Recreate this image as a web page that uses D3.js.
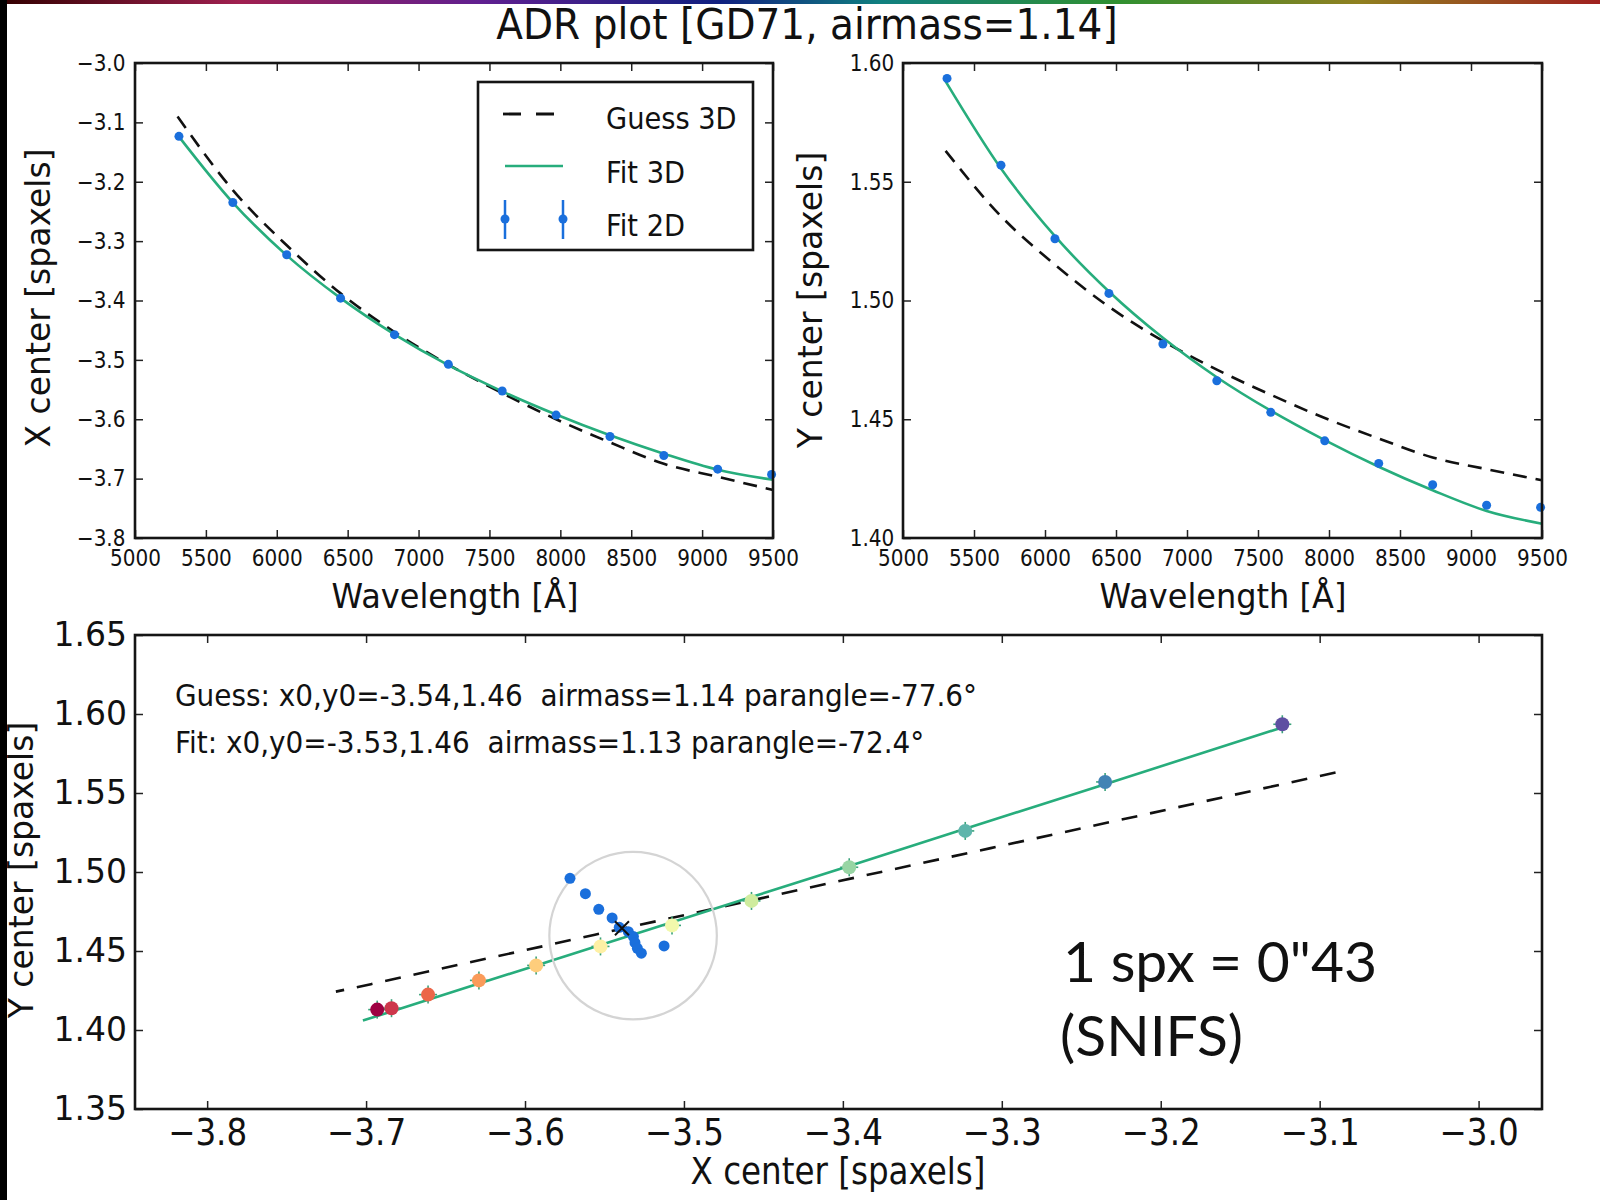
<!DOCTYPE html>
<html lang="en">
<head>
<meta charset="UTF-8">
<title>ADR plot</title>
<script src="https://cdn.jsdelivr.net/npm/d3@7"></script>
<style>
  body { margin: 0; background: #fff; }
  text { font-family: "DejaVu Sans", sans-serif; fill: #111; white-space: pre; }
</style>
</head>
<body>
<script>
// ---- data ----
const waves = [5310, 5690, 6070, 6450, 6830, 7210, 7590, 7970, 8350, 8730, 9110, 9490];
const fit2dX = [-3.1235, -3.235, -3.323, -3.396, -3.4575, -3.5075, -3.5525, -3.593, -3.629, -3.661, -3.684, -3.693];
const fit2dY = [1.5935, 1.5570, 1.5260, 1.5030, 1.4817, 1.4662, 1.4529, 1.4409, 1.4314, 1.4224, 1.4138, 1.4129];

const curveWaves = [5300, 5690, 6070, 6450, 6830, 7210, 7590, 7970, 8350, 8730, 9110, 9500];
const fit3dX = [-3.121, -3.235, -3.324, -3.396, -3.457, -3.509, -3.553, -3.592, -3.627, -3.658, -3.685, -3.702];
const fit3dY = [1.5923, 1.5556, 1.5271, 1.5038, 1.4843, 1.4677, 1.4536, 1.4412, 1.4300, 1.4201, 1.4114, 1.4060];
const guessX = [-3.090, -3.214, -3.307, -3.388, -3.453, -3.508, -3.556, -3.600, -3.639, -3.675, -3.697, -3.719];
const guessY = [1.5630, 1.5355, 1.5151, 1.4974, 1.4830, 1.4709, 1.4603, 1.4505, 1.4419, 1.4339, 1.4290, 1.4243];

// per-slice centroids, bottom panel
const centX = [-3.5717, -3.5620, -3.5536, -3.5452, -3.5407, -3.5350, -3.5318, -3.5308, -3.5293, -3.5268, -3.5125];
const centY = [1.4960, 1.4863, 1.4764, 1.4709, 1.4650, 1.4622, 1.4591, 1.4553, 1.4517, 1.4486, 1.4532];
const guessCenter = [-3.539, 1.4644];
const ring = { x: -3.532, y: 1.4597, r: 0.0527 };

const waveTicks = [5000, 5500, 6000, 6500, 7000, 7500, 8000, 8500, 9000, 9500];
const xcTicks = [-3.0, -3.1, -3.2, -3.3, -3.4, -3.5, -3.6, -3.7, -3.8];
const ycTicks = [1.40, 1.45, 1.50, 1.55, 1.60];
const ybTicks = [1.35, 1.40, 1.45, 1.50, 1.55, 1.60, 1.65];

const title = 'ADR plot [GD71, airmass=1.14]';
const guessTxt = 'Guess: x0,y0=-3.54,1.46  airmass=1.14 parangle=-77.6°';
const fitTxt = 'Fit: x0,y0=-3.53,1.46  airmass=1.13 parangle=-72.4°';

const blue = '#1a6fdc', green = '#27ad7c';

let svg = d3.select('body').append('svg').attr('width', 1600).attr('height', 1200);
svg.append('rect').attr('width', 1600).attr('height', 1200).attr('fill', '#fff');

// scanner-ish borders of the original picture
let grad = svg.append('defs').append('linearGradient').attr('id', 'spec');
[['0', '#300'], ['0.15', '#a02050'], ['0.3', '#602090'], ['0.45', '#102080'], ['0.55', '#108080'],
 ['0.7', '#309030'], ['0.85', '#908020'], ['1', '#a02020']].forEach(s =>
  grad.append('stop').attr('offset', s[0]).attr('stop-color', s[1]));
svg.append('rect').attr('width', 1600).attr('height', 4).attr('fill', 'url(#spec)');
svg.append('rect').attr('width', 7).attr('height', 1200).attr('fill', '#000');

function txt(g, x, y, s, size, sx, anchor) {
  return g.append('text')
    .attr('transform', `translate(${x},${y}) scale(${sx},1)`)
    .attr('text-anchor', anchor || 'start')
    .style('font-size', size + 'px')
    .text(s);
}

function panel(box, xDom, yDom, xT, yT, xFmt, yFmt, o) {
  let w = box.r - box.l, h = box.b - box.t;
  let g = svg.append('g').attr('transform', `translate(${box.l},${box.t})`);
  let x = d3.scaleLinear().domain(xDom).range([0, w]);
  let y = d3.scaleLinear().domain(yDom).range([h, 0]);
  let ax = g.append('g').attr('transform', `translate(0,${h})`)
    .call(d3.axisBottom(x).tickValues(xT).tickSize(-8).tickFormat(xFmt));
  ax.selectAll('text').attr('y', o.xLabY).attr('dy', 0)
    .style('font-size', o.xFs + 'px').attr('transform', `scale(${o.xSx},1)`);
  g.append('g').call(d3.axisTop(x).tickValues(xT).tickSize(-8).tickFormat(''));
  let ay = g.append('g').call(d3.axisLeft(y).tickValues(yT).tickSize(-8).tickFormat(yFmt));
  ay.selectAll('text').attr('x', o.yLabX)
    .style('font-size', o.yFs + 'px').attr('transform', `scale(${o.ySx},1)`);
  g.append('g').attr('transform', `translate(${w},0)`)
    .call(d3.axisRight(y).tickValues(yT).tickSize(-8).tickFormat(''));
  g.selectAll('.domain').remove();
  g.selectAll('.tick line').attr('stroke', '#222').attr('stroke-width', 1.5);
  g.selectAll('.tick text').attr('fill', '#111').style('font-family', '"DejaVu Sans", sans-serif');
  let plot = g.append('g');
  g.append('rect').attr('width', w).attr('height', h)
    .attr('fill', 'none').attr('stroke', '#151515').attr('stroke-width', 2.6);
  return { g, plot, x, y, w, h };
}

// title (kept just clear of the 1.60 tick label)
txt(svg, 807, 39, title, 42, 0.93, 'middle');

// ---- top left: X center vs wavelength ----
const topOpts = { xLabY: 28, xFs: 23, xSx: 0.87, yLabX: -11, yFs: 23, ySx: 0.87 };
let tl = panel({ l: 135, r: 773, t: 63, b: 538 }, [5000, 9500], [-3.8, -3.0],
  waveTicks, xcTicks, d3.format('d'), d3.format('.1f'), topOpts);

let lineTL = d3.line().curve(d3.curveMonotoneX).x(d => tl.x(d[0])).y(d => tl.y(d[1]));
tl.plot.append('path').datum(d3.zip(curveWaves, guessX)).attr('d', lineTL)
  .attr('fill', 'none').attr('stroke', '#111').attr('stroke-width', 2.6).attr('stroke-dasharray', '14,9');
tl.plot.append('path').datum(d3.zip(curveWaves, fit3dX)).attr('d', lineTL)
  .attr('fill', 'none').attr('stroke', green).attr('stroke-width', 2.6);
tl.plot.selectAll('circle').data(d3.zip(waves, fit2dX)).join('circle')
  .attr('cx', d => tl.x(d[0])).attr('cy', d => tl.y(d[1])).attr('r', 4.5).attr('fill', blue);

txt(svg, 455, 608, 'Wavelength [Å]', 33, 0.97, 'middle');
svg.append('text').attr('transform', 'translate(50,298) rotate(-90)')
  .attr('text-anchor', 'middle').style('font-size', '33px').text('X center [spaxels]');

// legend
let lg = svg.append('g');
lg.append('rect').attr('x', 478).attr('y', 82).attr('width', 275).attr('height', 168)
  .attr('fill', '#fff').attr('stroke', '#151515').attr('stroke-width', 2.6);
lg.append('line').attr('x1', 503).attr('x2', 563).attr('y1', 114).attr('y2', 114)
  .attr('stroke', '#111').attr('stroke-width', 2.8).attr('stroke-dasharray', '18,15');
lg.append('line').attr('x1', 505).attr('x2', 563).attr('y1', 166).attr('y2', 166)
  .attr('stroke', green).attr('stroke-width', 2.6);
[505, 563].forEach(px => {
  lg.append('line').attr('x1', px).attr('x2', px).attr('y1', 200).attr('y2', 239)
    .attr('stroke', blue).attr('stroke-width', 2.5);
  lg.append('circle').attr('cx', px).attr('cy', 219).attr('r', 4.5).attr('fill', blue);
});
txt(lg, 606, 129, 'Guess 3D', 31, 0.88);
txt(lg, 606, 183, 'Fit 3D', 31, 0.88);
txt(lg, 606, 236, 'Fit 2D', 31, 0.88);

// ---- top right: Y center vs wavelength ----
let tr = panel({ l: 903, r: 1542, t: 63, b: 538 }, [5000, 9500], [1.40, 1.60],
  waveTicks, ycTicks, d3.format('d'), d3.format('.2f'), Object.assign({}, topOpts, { yLabX: -10 }));

let lineTR = d3.line().curve(d3.curveMonotoneX).x(d => tr.x(d[0])).y(d => tr.y(d[1]));
tr.plot.append('path').datum(d3.zip(curveWaves, guessY)).attr('d', lineTR)
  .attr('fill', 'none').attr('stroke', '#111').attr('stroke-width', 2.6).attr('stroke-dasharray', '14,9');
tr.plot.append('path').datum(d3.zip(curveWaves, fit3dY)).attr('d', lineTR)
  .attr('fill', 'none').attr('stroke', green).attr('stroke-width', 2.6);
tr.plot.selectAll('circle').data(d3.zip(waves, fit2dY)).join('circle')
  .attr('cx', d => tr.x(d[0])).attr('cy', d => tr.y(d[1])).attr('r', 4.5).attr('fill', blue);

txt(svg, 1223, 608, 'Wavelength [Å]', 33, 0.97, 'middle');
svg.append('text').attr('transform', 'translate(822,300) rotate(-90)')
  .attr('text-anchor', 'middle').style('font-size', '33px').text('Y center [spaxels]');

// ---- bottom: Y center vs X center ----
let bt = panel({ l: 135, r: 1542, t: 635, b: 1109 }, [-3.8454, -2.9601], [1.35, 1.65],
  xcTicks, ybTicks, d3.format('.1f'), d3.format('.2f'),
  { xLabY: 36, xFs: 37, xSx: 0.88, yLabX: -8, yFs: 33, ySx: 1 });

let lineB = d3.line().x(d => bt.x(d[0])).y(d => bt.y(d[1]));
bt.plot.append('path').datum(d3.zip(guessX, guessY)).attr('d', lineB)
  .attr('fill', 'none').attr('stroke', '#111').attr('stroke-width', 2.6).attr('stroke-dasharray', '16,13');
bt.plot.append('path').datum(d3.zip(fit3dX, fit3dY)).attr('d', lineB)
  .attr('fill', 'none').attr('stroke', green).attr('stroke-width', 2.6);

bt.plot.append('circle').attr('cx', bt.x(ring.x)).attr('cy', bt.y(ring.y))
  .attr('r', bt.x(ring.x + ring.r) - bt.x(ring.x))
  .attr('fill', 'none').attr('stroke', '#d4d4d4').attr('stroke-width', 2.2);

bt.plot.selectAll('circle.cent').data(d3.zip(centX, centY)).join('circle').attr('class', 'cent')
  .attr('cx', d => bt.x(d[0])).attr('cy', d => bt.y(d[1])).attr('r', 5.5).attr('fill', blue);

let spec = d3.scaleSequential(d3.interpolateSpectral).domain([9490, 5310]);
let pts = d3.zip(fit2dX, fit2dY, waves);
let eb = bt.plot.append('g').attr('stroke', '#3aa37a').attr('stroke-width', 1.6);
pts.forEach(d => {
  let cx = bt.x(d[0]), cy = bt.y(d[1]);
  eb.append('line').attr('x1', cx - 9).attr('x2', cx + 9).attr('y1', cy).attr('y2', cy);
  eb.append('line').attr('x1', cx).attr('x2', cx).attr('y1', cy - 9).attr('y2', cy + 9);
});
bt.plot.selectAll('circle.pt').data(pts).join('circle').attr('class', 'pt')
  .attr('cx', d => bt.x(d[0])).attr('cy', d => bt.y(d[1])).attr('r', 7)
  .attr('fill', d => spec(d[2]));

let gx = bt.x(guessCenter[0]), gy = bt.y(guessCenter[1]);
bt.plot.append('path').attr('d', `M${gx - 7},${gy - 7}L${gx + 7},${gy + 7}M${gx - 7},${gy + 7}L${gx + 7},${gy - 7}`)
  .attr('stroke', '#111').attr('stroke-width', 2);

txt(svg, 175, 706, guessTxt, 31, 0.9);
txt(svg, 175, 753, fitTxt, 31, 0.9);

svg.append('text').attr('x', 1063).attr('y', 982).style('font-family', 'Lato, sans-serif')
  .style('font-size', '57px').text('1 spx = 0"43');
svg.append('text').attr('x', 1060).attr('y', 1056).style('font-family', 'Lato, sans-serif')
  .style('font-size', '57px').text('(SNIFS)');

txt(svg, 838, 1184, 'X center [spaxels]', 37, 0.88, 'middle');
svg.append('text').attr('transform', 'translate(33,870) rotate(-90)')
  .attr('text-anchor', 'middle').style('font-size', '33px').text('Y center [spaxels]');
</script>
</body>
</html>
